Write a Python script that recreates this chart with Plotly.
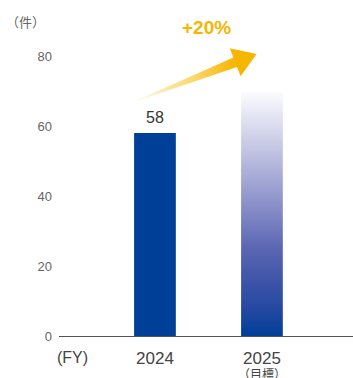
import numpy as np
import plotly.graph_objects as go

# ---- data ----
years = ["2024", "2025"]
counts = [58, 69.6]            # 2025 is the target (+20%)
year_notes = ["", "（目標）"]
y_ticks = [0, 20, 40, 60, 80]
unit_label = "（件）"
fy_label = "(FY)"
growth_label = "+20%"

# ---- layout geometry ----
W, H = 353, 378
M = dict(l=59, r=0, t=21, b=42, pad=0)
XR = [-0.897, 1.851]
YR = [0, 90]
BAR_W = 0.39

FONT = "Liberation Sans, Arial, Noto Sans CJK JP, sans-serif"
NAVY = "#003f98"
GOLD = "#f6b600"

plot_w = W - M["l"] - M["r"]
plot_h = H - M["t"] - M["b"]
px_per_x = plot_w / (XR[1] - XR[0])
px_per_y = plot_h / (YR[1] - YR[0])

xpos = list(range(len(years)))

fig = go.Figure()

# actual result: solid bar
fig.add_trace(go.Bar(
    x=[xpos[0]], y=[counts[0]], width=BAR_W,
    marker=dict(color=NAVY, line=dict(width=0)),
    hoverinfo="skip", showlegend=False,
))

# target: bar with a vertical fade to white
x0, v1 = xpos[1], counts[1]
fig.add_trace(go.Scatter(
    x=[x0 - BAR_W / 2, x0 + BAR_W / 2, x0 + BAR_W / 2, x0 - BAR_W / 2, x0 - BAR_W / 2],
    y=[0, 0, v1, v1, 0],
    mode="lines", line=dict(width=0), fill="toself",
    fillgradient=dict(
        type="vertical", start=0, stop=v1,
        colorscale=[
            [0.0, NAVY],
            [0.12, "#2749a2"],
            [0.35, "#5864b1"],
            [0.55, "#8d93ca"],
            [0.8, "#cbcde7"],
            [1.0, "#fbfbfe"],
        ],
    ),
    hoverinfo="skip", showlegend=False,
))


def arrow_polygon(tail, tip, shaft_w, head_len, head_half):
    """Arrow outline in data units, shaped in screen pixels."""
    tx, ty = tail[0] * px_per_x, -tail[1] * px_per_y
    hx, hy = tip[0] * px_per_x, -tip[1] * px_per_y
    d = np.array([hx - tx, hy - ty])
    u = d / np.hypot(*d)
    n = np.array([u[1], -u[0]])
    base = np.array([hx, hy]) - u * head_len
    pts = [
        np.array([tx, ty]),
        base + n * shaft_w / 2,
        base + n * head_half,
        np.array([hx, hy]),
        base - n * head_half,
        base - n * shaft_w / 2,
        np.array([tx, ty]),
    ]
    return [p[0] / px_per_x for p in pts], [-p[1] / px_per_y for p in pts]


tail = (xpos[0] - 0.25, counts[0] + 8.3)
tip = (xpos[1] - 0.05, counts[1] + 11.0)
ax, ay = arrow_polygon(tail, tip, shaft_w=10, head_len=23, head_half=15)
fig.add_trace(go.Scatter(
    x=ax, y=ay, mode="lines", line=dict(width=0), fill="toself",
    fillgradient=dict(
        type="horizontal", start=tail[0], stop=tip[0] - 0.2,
        colorscale=[
            [0.0, "rgba(255,248,228,0.3)"],
            [0.25, "#fdeec4"],
            [0.65, "#fbd462"],
            [1.0, GOLD],
        ],
    ),
    hoverinfo="skip", showlegend=False,
))

annotations = [
    # value label above the actual bar
    dict(x=xpos[0], y=counts[0], xref="x", yref="y", text=f"{counts[0]:g}",
         showarrow=False, yanchor="bottom", yshift=5,
         font=dict(family=FONT, size=16, color="#333333")),
    # fiscal-year marker left of the categories
    dict(x=-0.77, y=0, xref="x", yref="paper", text=fy_label,
         showarrow=False, yanchor="middle", yshift=-21,
         font=dict(family=FONT, size=16, color="#444444")),
    # "target" note under 2025
    dict(x=xpos[1], y=0, xref="x", yref="paper", text=year_notes[1],
         showarrow=False, yanchor="top", yshift=-30,
         font=dict(family=FONT, size=12, color="#444444")),
    # unit label in the top-left corner
    dict(x=(25 - M["l"]) / plot_w, y=(H - M["b"] - 23) / plot_h,
         xref="paper", yref="paper", text=unit_label,
         showarrow=False, xanchor="center", yanchor="middle",
         font=dict(family=FONT, size=13, color="#666666")),
    # growth label above the arrow
    dict(x=(206 - M["l"]) / px_per_x + XR[0], y=(H - M["b"] - 27) / px_per_y,
         xref="x", yref="y", text=f"<b>{growth_label}</b>",
         showarrow=False, yanchor="middle",
         font=dict(family=FONT, size=19, color=GOLD)),
]

fig.update_layout(
    width=W, height=H, margin=M,
    paper_bgcolor="white", plot_bgcolor="white",
    showlegend=False,
    annotations=annotations,
    xaxis=dict(
        range=XR, tickmode="array", tickvals=xpos, ticktext=years,
        showgrid=False, zeroline=False, showline=True,
        linecolor="#555555", linewidth=1, ticks="",
        ticklabelstandoff=7,
        tickfont=dict(family=FONT, size=17, color="#444444"),
        fixedrange=True,
    ),
    yaxis=dict(
        range=YR, tickmode="array", tickvals=y_ticks,
        showgrid=False, zeroline=False, showline=False, ticks="",
        ticklabelstandoff=6,
        tickfont=dict(family=FONT, size=13, color="#666666"),
        fixedrange=True,
    ),
)

fig.write_html("out.html")
